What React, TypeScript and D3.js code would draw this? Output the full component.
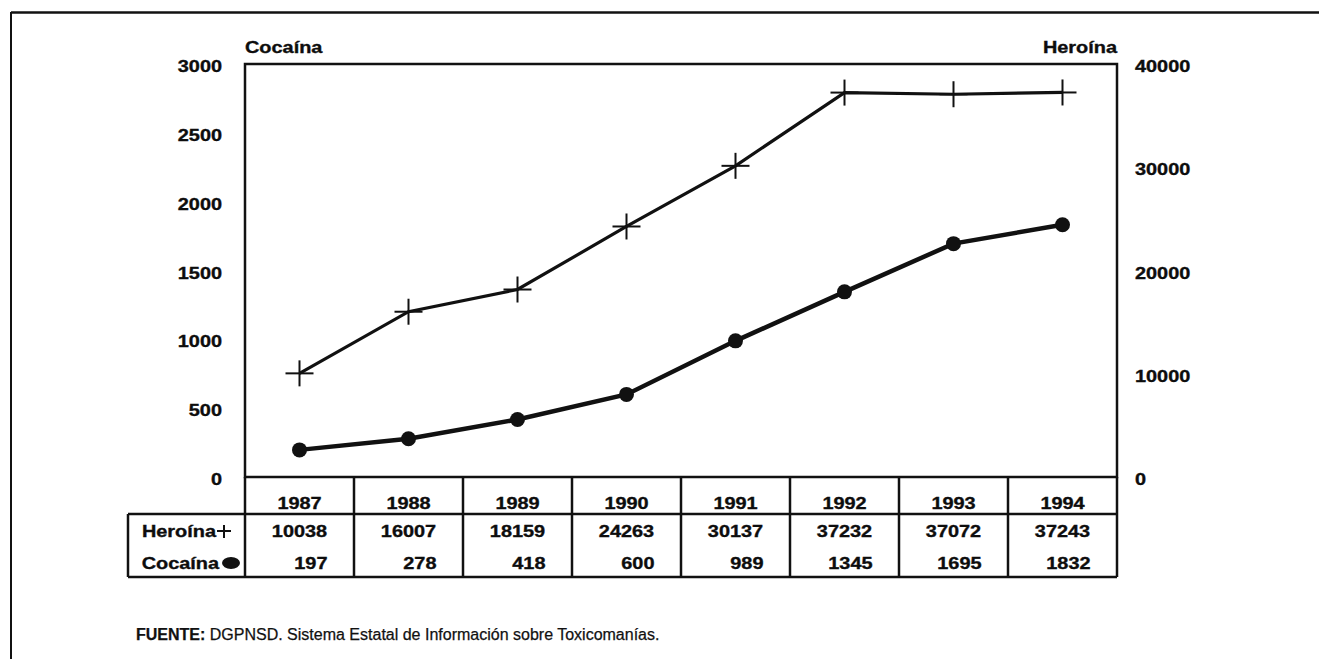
import React from "react";
import * as d3 from "d3";

const years = ["1987", "1988", "1989", "1990", "1991", "1992", "1993", "1994"];
const heroina = [10038, 16007, 18159, 24263, 30137, 37232, 37072, 37243];
const cocaina = [197, 278, 418, 600, 989, 1345, 1695, 1832];
const leftTicks = [0, 500, 1000, 1500, 2000, 2500, 3000];
const rightTicks = [0, 10000, 20000, 30000, 40000];

const W = 1319;
const H = 659;
const L = 245, R = 1117, T = 64, B = 477;
const rowYear = 514, rowEnd = 577, headLeft = 128;
const FONT = "'Liberation Sans', Arial, Helvetica, sans-serif";

function Txt(props: { x: number; y: number; anchor?: string; children: React.ReactNode }) {
  const { x, y, anchor = "start", children } = props;
  return (
    <text
      transform={`translate(${x},${y}) scale(1.17,1)`}
      textAnchor={anchor}
      fontFamily={FONT}
      fontWeight={700}
      fontSize={17}
      fill="#0d0d0d"
      stroke="#0d0d0d"
      strokeWidth={0.35}
    >
      {children}
    </text>
  );
}

export default function App() {
  const x = d3.scaleBand<string>().domain(years).range([L, R]);
  const yL = d3.scaleLinear().domain([0, 3000]).range([B, T]);
  const yR = d3.scaleLinear().domain([0, 40000]).range([B, T]);
  const cx = (y: string) => (x(y) as number) + x.bandwidth() / 2;

  const lineH = d3.line<number>().x((_, i) => cx(years[i])).y((d) => yR(d));
  const lineC = d3.line<number>().x((_, i) => cx(years[i])).y((d) => yL(d));

  return (
    <svg width={W} height={H} style={{ position: "absolute", left: 0, top: 0, background: "#fff" }}>
      {/* outer frame */}
      <line x1={11} y1={12.5} x2={W} y2={12.5} stroke="#111" strokeWidth={2.5} />
      <line x1={11} y1={12} x2={11} y2={H} stroke="#111" strokeWidth={2} />

      {/* axis titles */}
      <Txt x={L} y={53}>Cocaína</Txt>
      <Txt x={R} y={53} anchor="end">Heroína</Txt>

      {/* left ticks */}
      {leftTicks.map((t) => (
        <Txt key={"l" + t} x={222} y={yL(t) + 8} anchor="end">{t}</Txt>
      ))}
      {/* right ticks */}
      {rightTicks.map((t) => (
        <Txt key={"r" + t} x={1135} y={yR(t) + 8}>{t}</Txt>
      ))}

      {/* plot frame */}
      <rect x={L} y={T} width={R - L} height={B - T} fill="none" stroke="#111" strokeWidth={2.5} />

      {/* heroin line */}
      <path d={lineH(heroina) || ""} fill="none" stroke="#111" strokeWidth={3.2} />
      {heroina.map((v, i) => {
        const px = cx(years[i]), py = yR(v);
        return (
          <g key={"h" + i} stroke="#111" strokeWidth={2}>
            <line x1={px - 14} y1={py} x2={px + 14} y2={py} />
            <line x1={px} y1={py - 13} x2={px} y2={py + 13} />
          </g>
        );
      })}

      {/* cocaine line */}
      <path d={lineC(cocaina) || ""} fill="none" stroke="#111" strokeWidth={4.5} />
      {cocaina.map((v, i) => (
        <circle key={"c" + i} cx={cx(years[i])} cy={yL(v)} r={7.5} fill="#111" />
      ))}

      {/* table */}
      <g stroke="#111" strokeWidth={2.5} fill="none">
        <line x1={headLeft} y1={rowYear} x2={R} y2={rowYear} />
        <line x1={headLeft} y1={rowEnd} x2={R} y2={rowEnd} />
        <line x1={headLeft} y1={rowYear} x2={headLeft} y2={rowEnd} />
        {years.map((yr) => (
          <line key={"v" + yr} x1={x(yr)} y1={B} x2={x(yr)} y2={rowEnd} />
        ))}
        <line x1={R} y1={B} x2={R} y2={rowEnd} />
      </g>
      {years.map((yr) => (
        <Txt key={"y" + yr} x={cx(yr)} y={509} anchor="middle">{yr}</Txt>
      ))}
      {heroina.map((v, i) => (
        <Txt key={"hv" + i} x={cx(years[i])} y={537} anchor="middle">{v}</Txt>
      ))}
      {cocaina.map((v, i) => (
        <Txt key={"cv" + i} x={cx(years[i]) + 28} y={569} anchor="end">{v}</Txt>
      ))}

      {/* row headers */}
      <Txt x={216} y={537} anchor="end">Heroína</Txt>
      <g stroke="#111" strokeWidth={2}>
        <line x1={217} y1={531} x2={231} y2={531} />
        <line x1={224} y1={525} x2={224} y2={538} />
      </g>
      <Txt x={219} y={569} anchor="end">Cocaína</Txt>
      <ellipse cx={231} cy={563} rx={9} ry={6} fill="#111" />

      {/* source */}
      <text x={136} y={640} fontFamily={FONT} fontSize={16} fill="#111" stroke="#111" strokeWidth={0.25}>
        <tspan fontWeight={700}>FUENTE:</tspan>
        <tspan> DGPNSD. Sistema Estatal de Información sobre Toxicomanías.</tspan>
      </text>
    </svg>
  );
}
